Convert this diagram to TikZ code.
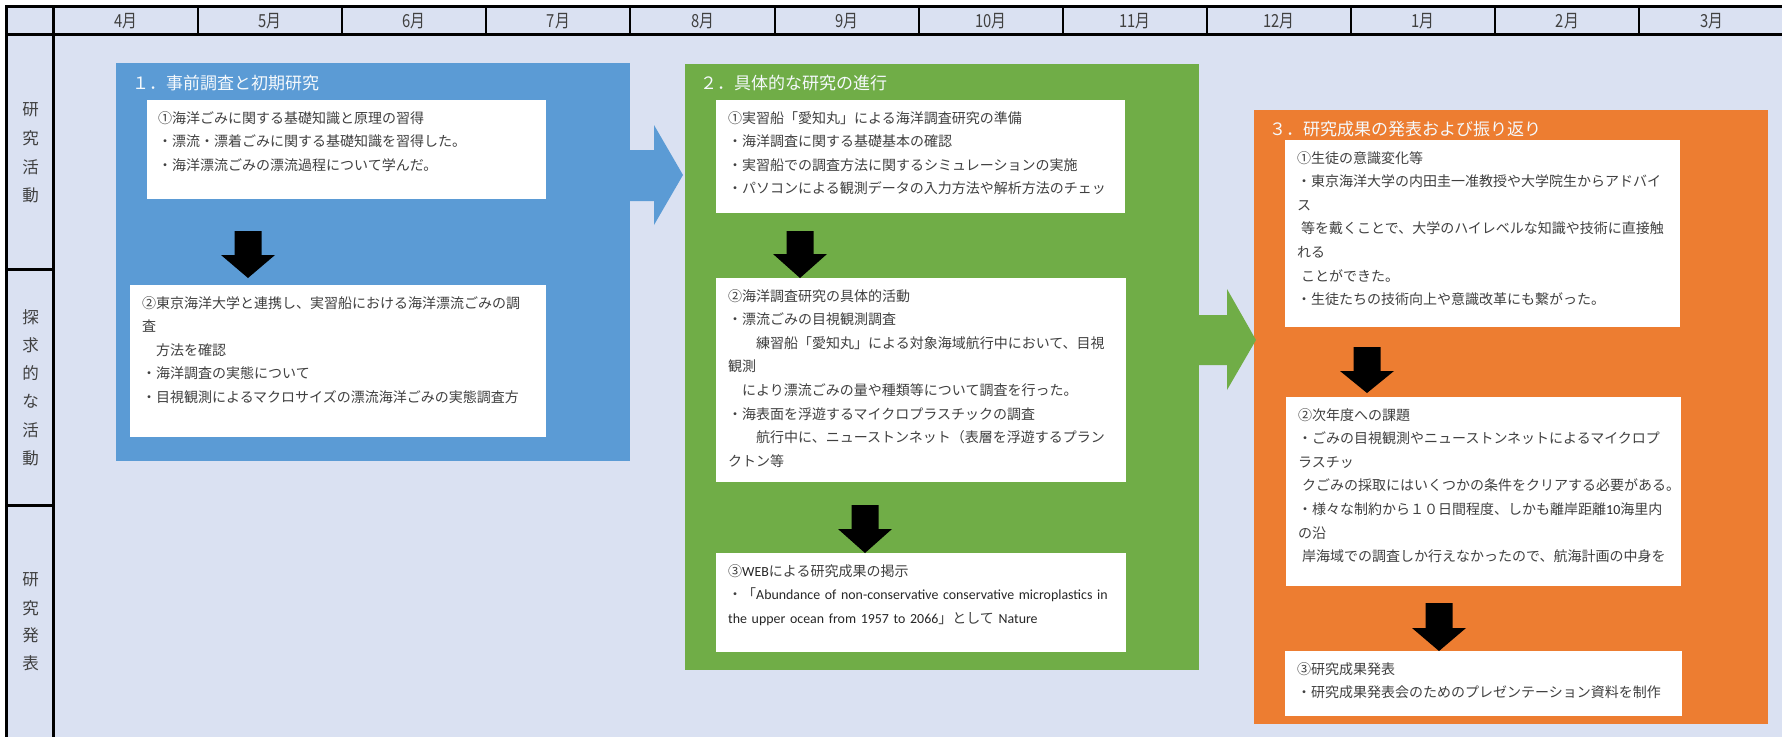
\documentclass[tikz,border=0pt]{standalone}
\usepackage{fontspec}
\newfontfamily\jp{Noto Sans CJK JP}
\newfontfamily\en{Carlito}
\definecolor{bg}{RGB}{218,225,242}
\definecolor{cblue}{RGB}{91,155,213}
\definecolor{cgreen}{RGB}{112,173,71}
\definecolor{corange}{RGB}{237,125,49}
\definecolor{txt}{RGB}{64,64,64}
\definecolor{entxt}{RGB}{38,38,38}
\newcommand{\entext}[1]{{\en\fontsize{13.9pt}{23.6pt}\selectfont\color{entxt}#1}}
\newcommand{\blockdown}[4]{%
  \fill[black] (#1-13.5,#2) -- (#1+13.5,#2) -- (#1+13.5,#3) -- (#1+27,#3) -- (#1,#4) -- (#1-27,#3) -- (#1-13.5,#3) -- cycle;}
\tikzset{
  panel/.style={anchor=north west, inner sep=0pt, outer sep=0pt},
  wbox/.style={fill=white, anchor=north west, inner sep=0pt, outer sep=0pt},
  body/.style={anchor=base west, inner sep=0pt, text width=430pt, align=left, text=txt, font=\jp\fontsize{14pt}{23.6pt}\selectfont},
  ttl/.style={anchor=base west, inner sep=0pt, text=white!94!cblue, font=\jp\fontsize{17pt}{20pt}\selectfont},
  rowlbl/.style={inner sep=0pt, text=txt, font=\jp\fontsize{16.5pt}{20pt}\selectfont},
  mlbl/.style={inner sep=0pt, text=txt, xscale=0.82, font=\jp\fontsize{18pt}{20pt}\selectfont},
  thickln/.style={line width=3pt, black},
  thinln/.style={line width=2pt, black},
}
\begin{document}
\begin{tikzpicture}[x=1pt, y=-1pt]
\useasboundingbox (0,0) rectangle (1782,737);
\fill[white] (0,0) rectangle (1782,737);
\fill[bg] (6.5,6.5) rectangle (1782,737);

% panels
\node[panel, fill=cblue, minimum width=514pt, minimum height=398pt] (p1) at (116,63) {};
\node[panel, fill=cgreen, minimum width=514pt, minimum height=606pt] (p2) at (685,64) {};
\node[panel, fill=corange, minimum width=514pt, minimum height=614pt] (p3) at (1254,110) {};

% right block arrows
\fill[cblue] (630,150) -- (654,150) -- (654,125) -- (683,175) -- (654,225) -- (654,201) -- (630,201) -- cycle;
\fill[cgreen] (1199,315) -- (1227,315) -- (1227,289) -- (1256,340) -- (1227,390) -- (1227,365) -- (1199,365) -- cycle;

% titles
\node[ttl] (t1) at (132,89.5) {１．事前調査と初期研究};
\node[ttl] (t2) at (700,89.5) {２．具体的な研究の進行};
\node[ttl] (t3) at (1269,135.5) {３．研究成果の発表および振り返り};

% white boxes
\node[wbox, minimum width=399pt, minimum height=99pt] (b11) at (147,100) {};
\node[wbox, minimum width=416pt, minimum height=152pt] (b12) at (130,285) {};
\node[wbox, minimum width=409pt, minimum height=113pt] (b21) at (716,100) {};
\node[wbox, minimum width=410pt, minimum height=204pt] (b22) at (716,278) {};
\node[wbox, minimum width=410pt, minimum height=99pt] (b23) at (716,553) {};
\node[wbox, minimum width=395pt, minimum height=187pt] (b31) at (1285,140) {};
\node[wbox, minimum width=395pt, minimum height=189pt] (b32) at (1286,397) {};
\node[wbox, minimum width=397pt, minimum height=65pt] (b33) at (1285,651) {};

% down arrows
\blockdown{248}{231}{255}{278}
\blockdown{800}{231}{254}{278}
\blockdown{865}{505}{529}{553}
\blockdown{1367}{347}{371}{393}
\blockdown{1439}{603}{628}{651}

% texts
\node[body] (x11) at (158,123) {①海洋ごみに関する基礎知識と原理の習得\\・漂流・漂着ごみに関する基礎知識を習得した。\\・海洋漂流ごみの漂流過程について学んだ。};
\node[body] (x12) at (142,308) {②東京海洋大学と連携し、実習船における海洋漂流ごみの調\\査\\　方法を確認\\・海洋調査の実態について\\・目視観測によるマクロサイズの漂流海洋ごみの実態調査方};
\node[body] (x21) at (728,123) {①実習船「愛知丸」による海洋調査研究の準備\\・海洋調査に関する基礎基本の確認\\・実習船での調査方法に関するシミュレーションの実施\\・パソコンによる観測データの入力方法や解析方法のチェッ};
\node[body] (x22) at (728,301) {②海洋調査研究の具体的活動\\・漂流ごみの目視観測調査\\　　練習船「愛知丸」による対象海域航行中において、目視\\観測\\　により漂流ごみの量や種類等について調査を行った。\\・海表面を浮遊するマイクロプラスチックの調査\\　　航行中に、ニューストンネット（表層を浮遊するプラン\\クトン等};
\node[body] (x23) at (728,576) {③\entext{WEB}による研究成果の掲示\\・「\entext{Abundance of non-conservative conservative microplastics in}\\\entext{the upper ocean from 1957 to 2066}」として \entext{Nature}};
\node[body] (x31) at (1297,163) {①生徒の意識変化等\\・東京海洋大学の内田圭一准教授や大学院生からアドバイ\\ス\\\hspace*{4pt}等を戴くことで、大学のハイレベルな知識や技術に直接触\\れる\\\hspace*{4pt}ことができた。\\・生徒たちの技術向上や意識改革にも繋がった。};
\node[body] (x32) at (1298,420) {②次年度への課題\\・ごみの目視観測やニューストンネットによるマイクロプ\\ラスチッ\\\hspace*{4pt}クごみの採取にはいくつかの条件をクリアする必要がある。\\・様々な制約から１０日間程度、しかも離岸距離\entext{10}海里内\\の沿\\\hspace*{4pt}岸海域での調査しか行えなかったので、航海計画の中身を};
\node[body] (x33) at (1297,674) {③研究成果発表\\・研究成果発表会のためのプレゼンテーション資料を制作};

% row labels
\foreach \c [count=\i from 0] in {研,究,活,動}
  \node[rowlbl] (ra\i) at (30.5,110+28.4*\i) {\c};
\foreach \c [count=\i from 0] in {探,求,的,な,活,動}
  \node[rowlbl] (rb\i) at (30.5,317+28.2*\i) {\c};
\foreach \c [count=\i from 0] in {研,究,発,表}
  \node[rowlbl] (rc\i) at (30.5,580+27.8*\i) {\c};

% month labels
\foreach \m [count=\i from 0] in {4月,5月,6月,7月,8月,9月,10月,11月,12月,1月,2月,3月}
  \node[mlbl] (m\i) at (53.8+144.15*\i+72.07,21.3) {\m};

% grid
\foreach \i in {1,...,11}
  \draw[thinln] (53.8+144.15*\i,6.5) -- (53.8+144.15*\i,34.7);
\draw[thickln] (6.5,5) -- (6.5,737);
\draw[thickln] (5,6.5) -- (1782,6.5);
\draw[thickln] (53.5,6.5) -- (53.5,737);
\draw[thickln] (6.5,34.7) -- (1782,34.7);
\draw[thickln] (6.5,269) -- (53.5,269);
\draw[thickln] (6.5,505) -- (53.5,505);
\end{tikzpicture}
\end{document}
